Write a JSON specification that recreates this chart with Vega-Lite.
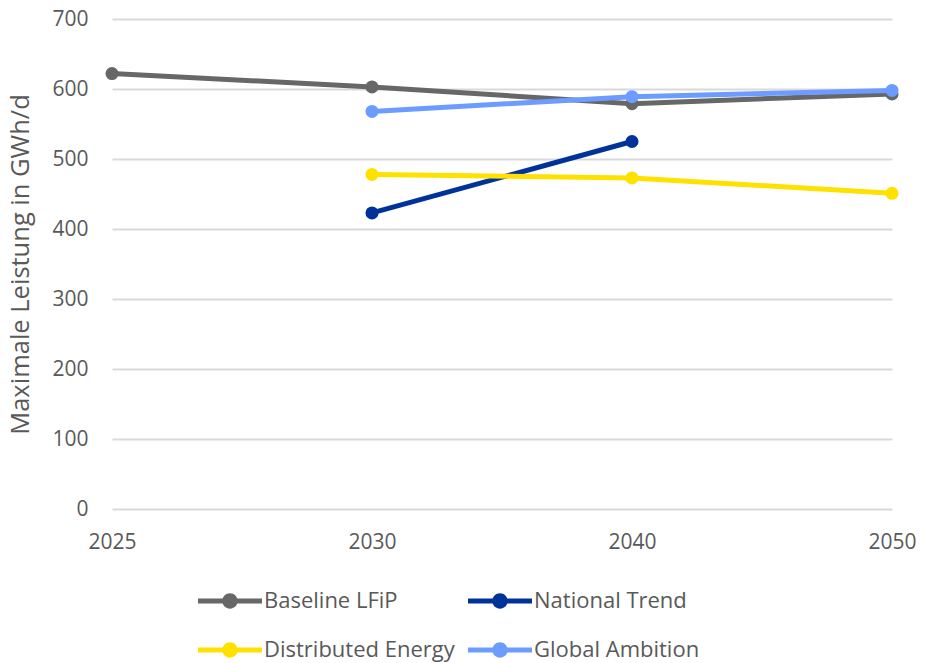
{
  "$schema": "https://vega.github.io/schema/vega-lite/v6.json",
  "autosize": "none",
  "width": 780,
  "height": 490,
  "padding": {"left": 112, "top": 19, "right": 33, "bottom": 154},
  "background": "white",
  "config": {
    "font": "Open Sans",
    "view": {"stroke": null},
    "legend": {"rowPadding": 6},
    "axis": {"labelColor": "#595959", "titleColor": "#595959", "labelFontSize": 21, "titleFontSize": 25.5, "titleFontWeight": "normal", "labelFont": "Open Sans", "titleFont": "Open Sans"}
  },
  "data": {
    "values": [
      {"year": "2025", "series": "Baseline LFiP", "value": 622},
      {"year": "2030", "series": "Baseline LFiP", "value": 603},
      {"year": "2040", "series": "Baseline LFiP", "value": 579},
      {"year": "2050", "series": "Baseline LFiP", "value": 593},
      {"year": "2030", "series": "National Trend", "value": 423},
      {"year": "2040", "series": "National Trend", "value": 525},
      {"year": "2030", "series": "Distributed Energy", "value": 478},
      {"year": "2040", "series": "Distributed Energy", "value": 473},
      {"year": "2050", "series": "Distributed Energy", "value": 451},
      {"year": "2030", "series": "Global Ambition", "value": 568},
      {"year": "2040", "series": "Global Ambition", "value": 589},
      {"year": "2050", "series": "Global Ambition", "value": 598}
    ]
  },
  "encoding": {
    "x": {
      "field": "year", "type": "ordinal",
      "scale": {"type": "point", "padding": 0},
      "axis": {"title": null, "labelAngle": 0, "domain": false, "ticks": false, "labelPadding": 22, "grid": false}
    },
    "y": {
      "field": "value", "type": "quantitative",
      "scale": {"domain": [0, 700], "nice": false},
      "axis": {"title": "Maximale Leistung in GWh/d", "values": [0,100,200,300,400,500,600,700], "domain": false, "ticks": false, "labelPadding": 24, "gridColor": "#d9d9d9", "gridWidth": 2, "titlePadding": 18}
    },
    "color": {
      "field": "series", "type": "nominal",
      "sort": ["Baseline LFiP", "National Trend", "Distributed Energy", "Global Ambition"],
      "scale": {"domain": ["Baseline LFiP", "National Trend", "Distributed Energy", "Global Ambition"], "range": ["#676767", "#003399", "#FFE100", "#6C9CFF"]},
      "legend": {
        "title": null, "orient": "none", "legendX": 86, "legendY": 550, "direction": "horizontal", "columns": 2,
        "columnPadding": 13, "rowPadding": 6, "labelFontSize": 22, "labelLimit": 400, "labelColor": "#595959", "labelFont": "Open Sans", "labelOffset": 2,
        "symbolType": "M-1,-0.08H1V0.08H-1Z M-0.24,0 A0.24,0.24 0 1,1 0.24,0 A0.24,0.24 0 1,1 -0.24,0 Z",
        "symbolSize": 4096, "symbolStrokeWidth": 0, "symbolOpacity": 1,
        "encode": {"symbols": {"update": {"fill": {"scale": "color", "field": "value"}, "strokeWidth": {"value": 0}}}}
      }
    },
    "order": {"field": "series"}
  },
  "layer": [
    {"mark": {"type": "line", "strokeWidth": 5}},
    {"mark": {"type": "point", "filled": true, "size": 170, "opacity": 1}}
  ]
}
